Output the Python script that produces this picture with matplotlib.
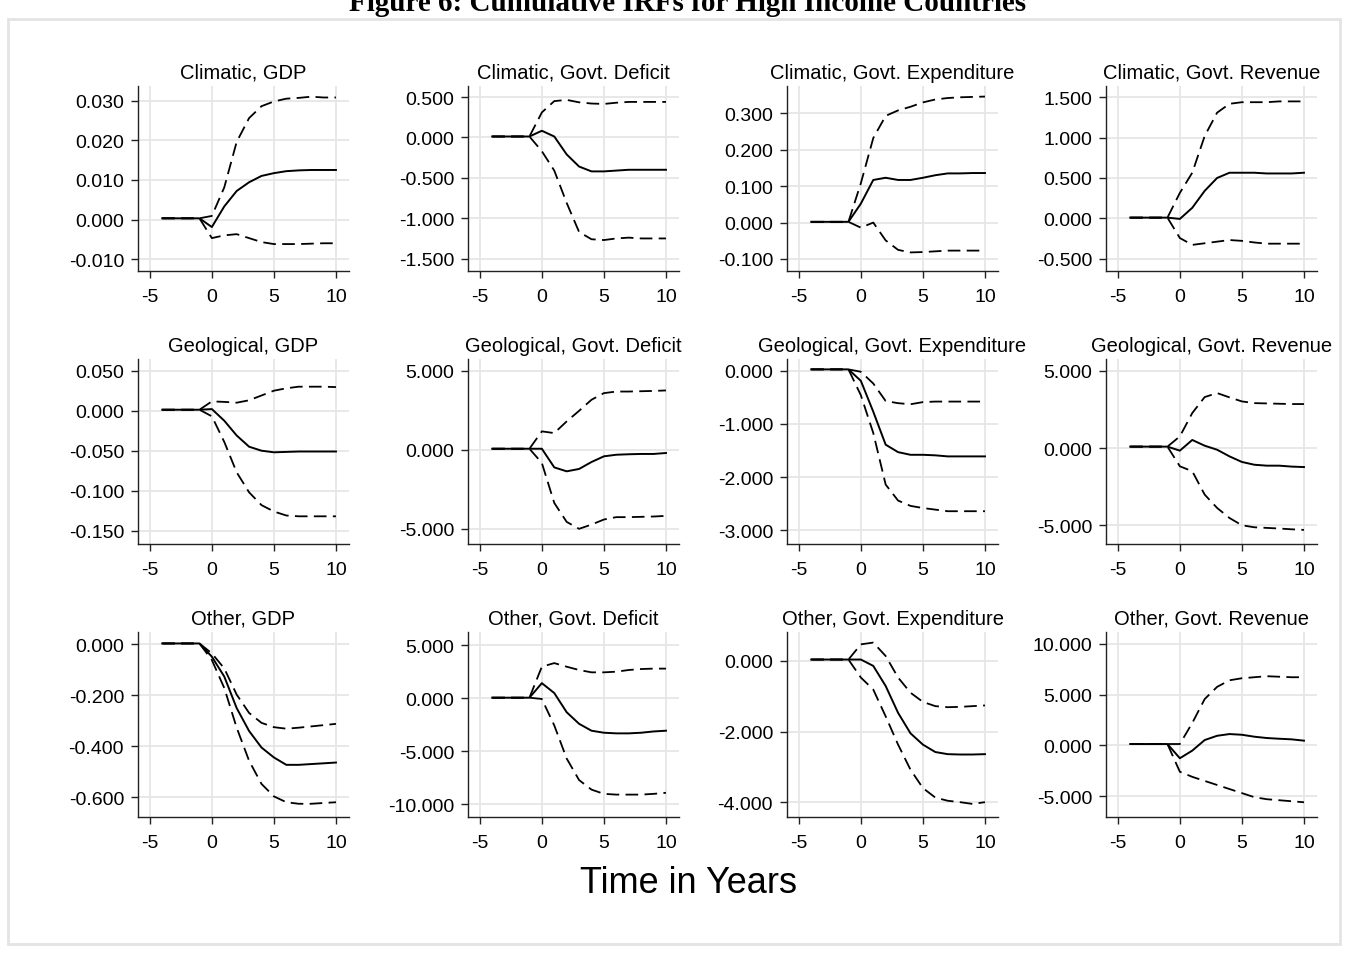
import matplotlib
matplotlib.use('Agg')
import matplotlib.pyplot as plt
from matplotlib.patches import Rectangle
from matplotlib.ticker import FormatStrFormatter

plt.rcParams['font.family'] = ['Liberation Sans', 'DejaVu Sans']
plt.rcParams['axes.unicode_minus'] = False

years = [-4, -3, -2, -1, 0, 1, 2, 3, 4, 5, 6, 7, 8, 9, 10]

# Climatic
clim_gdp_irf = [0.0003, 0.0003, 0.0003, 0.0003, -0.0019, 0.0033, 0.0072, 0.0094, 0.0110, 0.0117, 0.0122, 0.0124, 0.0125, 0.0125, 0.0125]
clim_gdp_hi = [0.0003, 0.0003, 0.0003, 0.0003, 0.0009, 0.0081, 0.0196, 0.0256, 0.0286, 0.0298, 0.0305, 0.0307, 0.0310, 0.0308, 0.0308]
clim_gdp_lo = [0.0003, 0.0003, 0.0003, 0.0003, -0.0047, -0.0040, -0.0037, -0.0047, -0.0057, -0.0062, -0.0062, -0.0062, -0.0061, -0.0060, -0.0060]

clim_def_irf = [0.012, 0.012, 0.012, 0.012, 0.083, 0.012, -0.21, -0.36, -0.42, -0.42, -0.41, -0.40, -0.40, -0.40, -0.40]
clim_def_hi = [0.012, 0.012, 0.012, 0.012, 0.31, 0.45, 0.465, 0.435, 0.42, 0.415, 0.43, 0.44, 0.44, 0.44, 0.44]
clim_def_lo = [0.012, 0.012, 0.012, 0.012, -0.17, -0.41, -0.81, -1.17, -1.26, -1.27, -1.25, -1.24, -1.25, -1.25, -1.25]

clim_exp_irf = [0.002, 0.002, 0.002, 0.002, 0.052, 0.117, 0.123, 0.117, 0.117, 0.123, 0.130, 0.135, 0.135, 0.136, 0.136]
clim_exp_hi = [0.002, 0.002, 0.002, 0.002, 0.108, 0.232, 0.293, 0.308, 0.318, 0.330, 0.338, 0.342, 0.344, 0.345, 0.346]
clim_exp_lo = [0.002, 0.002, 0.002, 0.002, -0.014, 0.000, -0.049, -0.075, -0.082, -0.081, -0.079, -0.077, -0.077, -0.077, -0.077]

clim_rev_irf = [0.008, 0.008, 0.008, 0.008, -0.008, 0.13, 0.34, 0.50, 0.565, 0.565, 0.565, 0.556, 0.556, 0.556, 0.565]
clim_rev_hi = [0.008, 0.008, 0.008, 0.008, 0.315, 0.565, 1.02, 1.31, 1.42, 1.44, 1.44, 1.44, 1.45, 1.45, 1.45]
clim_rev_lo = [0.008, 0.008, 0.008, 0.008, -0.245, -0.33, -0.31, -0.29, -0.27, -0.28, -0.30, -0.315, -0.315, -0.315, -0.315]

# Geological
geo_gdp_irf = [0.0012, 0.0012, 0.0012, 0.0012, 0.002, -0.0125, -0.031, -0.045, -0.050, -0.052, -0.0515, -0.051, -0.051, -0.051, -0.051]
geo_gdp_hi = [0.0012, 0.0012, 0.0012, 0.0012, 0.0116, 0.011, 0.010, 0.013, 0.019, 0.025, 0.028, 0.030, 0.030, 0.030, 0.0295]
geo_gdp_lo = [0.0012, 0.0012, 0.0012, 0.0012, -0.007, -0.039, -0.077, -0.102, -0.118, -0.126, -0.131, -0.132, -0.132, -0.132, -0.132]

geo_def_irf = [0.06, 0.06, 0.06, 0.06, 0.06, -1.12, -1.37, -1.22, -0.78, -0.42, -0.32, -0.29, -0.27, -0.27, -0.21]
geo_def_hi = [0.06, 0.06, 0.06, 0.06, 1.16, 1.05, 1.79, 2.46, 3.16, 3.58, 3.68, 3.68, 3.70, 3.72, 3.75]
geo_def_lo = [0.06, 0.06, 0.06, 0.06, -0.84, -3.37, -4.57, -5.01, -4.74, -4.42, -4.27, -4.27, -4.25, -4.23, -4.19]

geo_exp_irf = [0.025, 0.025, 0.025, 0.025, -0.19, -0.77, -1.39, -1.53, -1.58, -1.58, -1.59, -1.61, -1.61, -1.61, -1.61]
geo_exp_hi = [0.025, 0.025, 0.025, 0.025, -0.02, -0.24, -0.57, -0.61, -0.63, -0.59, -0.58, -0.58, -0.58, -0.58, -0.58]
geo_exp_lo = [0.025, 0.025, 0.025, 0.025, -0.46, -1.17, -2.14, -2.44, -2.54, -2.58, -2.61, -2.64, -2.64, -2.64, -2.64]

geo_rev_irf = [0.09, 0.09, 0.09, 0.09, -0.17, 0.52, 0.15, -0.11, -0.54, -0.90, -1.08, -1.14, -1.14, -1.20, -1.23]
geo_rev_hi = [0.09, 0.09, 0.09, 0.09, 0.75, 2.26, 3.29, 3.55, 3.27, 3.01, 2.90, 2.88, 2.86, 2.84, 2.84]
geo_rev_lo = [0.09, 0.09, 0.09, 0.09, -1.18, -1.50, -3.01, -3.87, -4.52, -4.99, -5.12, -5.16, -5.20, -5.25, -5.29]

# Other
oth_gdp_irf = [0.004, 0.004, 0.004, 0.004, -0.048, -0.126, -0.25, -0.34, -0.405, -0.444, -0.473, -0.473, -0.470, -0.467, -0.464]
oth_gdp_hi = [0.004, 0.004, 0.004, 0.004, -0.035, -0.094, -0.197, -0.269, -0.308, -0.325, -0.331, -0.327, -0.322, -0.317, -0.312]
oth_gdp_lo = [0.004, 0.004, 0.004, 0.004, -0.061, -0.171, -0.327, -0.457, -0.548, -0.597, -0.620, -0.626, -0.626, -0.623, -0.620]

oth_def_irf = [0.06, 0.06, 0.06, 0.06, 1.43, 0.50, -1.31, -2.40, -3.05, -3.24, -3.30, -3.30, -3.24, -3.12, -3.05]
oth_def_hi = [0.06, 0.06, 0.06, 0.06, 2.98, 3.32, 2.98, 2.67, 2.45, 2.45, 2.51, 2.67, 2.76, 2.80, 2.80]
oth_def_lo = [0.06, 0.06, 0.06, 0.06, -0.06, -2.55, -5.67, -7.70, -8.60, -9.00, -9.07, -9.07, -9.07, -9.00, -8.90]

oth_exp_irf = [0.04, 0.04, 0.04, 0.04, 0.04, -0.14, -0.71, -1.47, -2.05, -2.37, -2.58, -2.64, -2.65, -2.65, -2.64]
oth_exp_hi = [0.04, 0.04, 0.04, 0.04, 0.47, 0.52, 0.14, -0.47, -0.90, -1.16, -1.28, -1.31, -1.30, -1.28, -1.26]
oth_exp_lo = [0.04, 0.04, 0.04, 0.04, -0.47, -0.81, -1.57, -2.37, -3.08, -3.60, -3.87, -3.96, -4.00, -4.05, -4.00]

oth_rev_irf = [0.13, 0.13, 0.13, 0.13, -1.27, -0.52, 0.52, 0.94, 1.11, 1.04, 0.85, 0.72, 0.65, 0.59, 0.46]
oth_rev_hi = [0.13, 0.13, 0.13, 0.13, 0.13, 2.20, 4.55, 5.75, 6.40, 6.60, 6.70, 6.80, 6.75, 6.70, 6.70]
oth_rev_lo = [0.13, 0.13, 0.13, 0.13, -2.60, -3.10, -3.50, -3.90, -4.30, -4.70, -5.10, -5.30, -5.40, -5.50, -5.60]

titles = ['Climatic, GDP', 'Climatic, Govt. Deficit', 'Climatic, Govt. Expenditure', 'Climatic, Govt. Revenue',
          'Geological, GDP', 'Geological, Govt. Deficit', 'Geological, Govt. Expenditure', 'Geological, Govt. Revenue',
          'Other, GDP', 'Other, Govt. Deficit', 'Other, Govt. Expenditure', 'Other, Govt. Revenue']

yticks = [[-0.01, 0.0, 0.01, 0.02, 0.03], [-1.5, -1.0, -0.5, 0.0, 0.5], [-0.1, 0.0, 0.1, 0.2, 0.3], [-0.5, 0.0, 0.5, 1.0, 1.5],
          [-0.15, -0.1, -0.05, 0.0, 0.05], [-5, 0, 5], [-3, -2, -1, 0], [-5, 0, 5],
          [-0.6, -0.4, -0.2, 0.0], [-10, -5, 0, 5], [-4, -2, 0], [-5, 0, 5, 10]]

ylims = [(-0.013, 0.0337), (-1.653, 0.637), (-0.133, 0.375), (-0.654, 1.641),
         (-0.1666, 0.0646), (-5.97, 5.74), (-3.256, 0.22), (-6.2, 5.75),
         (-0.678, 0.049), (-11.18, 6.25), (-4.42, 0.82), (-7.05, 11.15)]

series = [(clim_gdp_irf, clim_gdp_hi, clim_gdp_lo), (clim_def_irf, clim_def_hi, clim_def_lo),
          (clim_exp_irf, clim_exp_hi, clim_exp_lo), (clim_rev_irf, clim_rev_hi, clim_rev_lo),
          (geo_gdp_irf, geo_gdp_hi, geo_gdp_lo), (geo_def_irf, geo_def_hi, geo_def_lo),
          (geo_exp_irf, geo_exp_hi, geo_exp_lo), (geo_rev_irf, geo_rev_hi, geo_rev_lo),
          (oth_gdp_irf, oth_gdp_hi, oth_gdp_lo), (oth_def_irf, oth_def_hi, oth_def_lo),
          (oth_exp_irf, oth_exp_hi, oth_exp_lo), (oth_rev_irf, oth_rev_hi, oth_rev_lo)]

W, H = 1348.0, 962.0
fig = plt.figure(figsize=(W / 100, H / 100), dpi=100)
fig.patch.set_facecolor('white')

# light outer frame of the graph region
fig.add_artist(Rectangle((8 / W, 1 - 945 / H), 1332 / W, 925 / H, transform=fig.transFigure,
                         fill=False, edgecolor='#e4e4e4', linewidth=2))

col_left = [138, 468, 787, 1106]
row_top = [87, 360, 633]
ax_w, ax_h = 211, 185

for i in range(12):
    r, c = divmod(i, 4)
    ax = fig.add_axes([col_left[c] / W, 1 - (row_top[r] + ax_h) / H, ax_w / W, ax_h / H])
    irf, hi, lo = series[i]
    ax.plot(years, irf, color='black', lw=1.4)
    ax.plot(years, hi, color='black', lw=1.3, dashes=(7, 3.5))
    ax.plot(years, lo, color='black', lw=1.3, dashes=(7, 3.5))

    ax.set_xlim(-5.95, 11.05)
    ax.set_ylim(*ylims[i])
    ax.set_xticks([-5, 0, 5, 10])
    ax.set_yticks(yticks[i])
    ax.yaxis.set_major_formatter(FormatStrFormatter('%.3f'))
    ax.grid(True, color='#e6e6e6', lw=1.3)
    ax.set_axisbelow(True)
    for s in ['top', 'right']:
        ax.spines[s].set_visible(False)
    for s in ['left', 'bottom']:
        ax.spines[s].set_color('#222222')
        ax.spines[s].set_linewidth(1.0)
    ax.tick_params(direction='out', length=5, width=1, labelsize=14, colors='#222222',
                   labelcolor='black')
    ax.tick_params(axis='x', pad=7)
    ax.tick_params(axis='y', pad=5)
    ax.set_title(titles[i], fontsize=14.5, pad=6)

fig.text(688 / W, 1 - 893 / H, 'Time in Years', ha='center', va='baseline', fontsize=26)
fig.text(688 / W, 1 - 11 / H, 'Figure 6: Cumulative IRFs for High Income Countries', ha='center',
         va='baseline', fontsize=21, fontfamily='Liberation Serif', fontweight='bold')

fig.savefig('out.png', dpi=100)
